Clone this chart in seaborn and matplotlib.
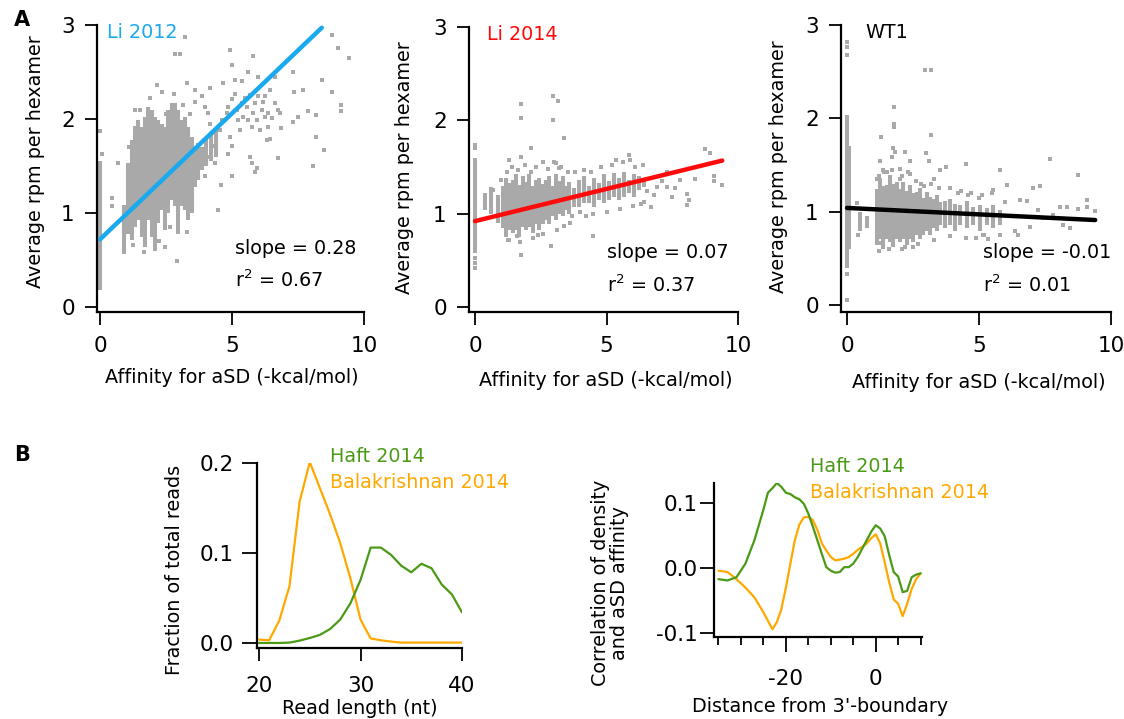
import numpy as np
import matplotlib.pyplot as plt
import seaborn as sns

# ---------------- data ----------------
# panel A: gray hexamer clouds. dense stacks drawn as columns (x, low, high),
# sparse hexamers as single points
li12_col_x = [0.0, 0.92, 1.07, 1.20, 1.33, 1.45, 1.58, 1.70, 1.83, 1.96, 2.08, 2.21, 2.34,
              2.46, 2.59, 2.71, 2.84, 2.97, 3.09, 3.22, 3.35, 3.47, 3.60, 3.72, 3.85, 4.00,
              4.20, 4.40]
li12_col_lo = [0.18, 0.61, 0.78, 0.71, 0.85, 0.93, 0.75, 0.64, 0.93, 0.75, 0.61, 0.89, 1.03,
               0.82, 1.00, 1.14, 1.07, 0.78, 1.07, 1.03, 0.93, 1.00, 1.28, 1.35, 1.46, 1.50,
               1.55, 1.60]
li12_col_hi = [1.55, 1.08, 1.53, 1.78, 1.88, 1.99, 1.92, 2.02, 2.13, 2.10, 2.02, 1.99, 1.95,
               1.92, 2.10, 2.17, 2.17, 2.10, 1.99, 2.02, 1.92, 1.81, 1.70, 1.75, 1.70, 1.80,
               1.85, 1.90]
li12_x = [0.00, 0.06, 3.22, 2.84, 3.03, 4.92, 5.80, 6.63, 7.32, 8.77, 9.03, 9.43, 8.42, 8.80,
          9.13, 9.13, 7.70, 7.36, 7.89, 8.17, 7.50, 7.32, 6.86, 6.73, 8.08, 8.20, 8.50, 6.44,
          5.87, 4.99, 4.60, 4.48, 2.90, 2.15, 2.34, 1.83, 1.33, 1.33, 0.70, 0.44, 0.47, 0.92,
          2.08, 2.46, 3.28, 3.60, 4.17, 4.67, 5.11, 5.37, 5.62, 5.97, 6.25, 6.44, 6.75, 6.38,
          5.00,
          3.60, 3.85, 3.98, 4.10, 4.17, 4.29, 4.36, 4.55, 4.61, 4.80, 4.86, 4.92, 4.99, 5.11,
          5.18, 5.24, 5.30, 5.37, 5.43, 5.49, 5.56, 5.62, 5.68, 5.74, 5.81, 5.87, 5.93, 6.00,
          6.06, 6.12, 6.19, 6.25, 6.31, 6.38, 6.50, 6.63, 6.82, 5.68, 5.74, 5.93, 4.86, 4.99,
          4.36, 4.10, 3.85, 3.79, 3.98, 3.60,
          1.10, 1.50, 1.90, 2.50, 2.80, 3.15, 3.40, 1.25, 1.65, 2.25, 2.65, 3.30]
li12_y = [1.87, 1.63, 2.87, 2.69, 2.69, 2.73, 2.67, 2.45, 2.50, 2.89, 2.76, 2.65, 2.41, 2.29,
          2.15, 2.09, 2.31, 2.29, 2.09, 2.04, 2.02, 1.97, 1.90, 1.58, 1.50, 1.81, 1.67, 1.79,
          1.44, 1.39, 1.30, 1.03, 0.49, 2.36, 2.29, 2.10, 2.10, 1.90, 1.53, 1.16, 1.07, 0.59,
          0.62, 0.64, 2.38, 2.31, 2.33, 2.38, 2.41, 2.40, 2.50, 2.45, 2.24, 2.31, 2.10, 2.06,
          2.57,
          2.18, 2.24, 2.13, 2.06, 1.95, 1.85, 1.71, 1.88, 1.99, 2.06, 2.13, 1.81, 2.21, 2.27,
          2.10, 1.99, 1.88, 2.17, 2.02, 2.22, 2.13, 1.99, 2.26, 1.92, 2.06, 2.17, 1.99, 2.24,
          1.88, 2.10, 2.18, 2.02, 1.78, 1.92, 2.01, 2.17, 2.06, 1.60, 1.53, 1.48, 1.63, 1.71,
          1.53, 1.60, 1.67, 1.49, 1.39, 1.35,
          1.70, 2.10, 2.22, 2.05, 2.27, 2.15, 2.05, 0.66, 0.58, 0.70, 0.85, 0.80]
li12_fit = (0.72, 0.268, 8.4)  # intercept, slope, last x

li14_col_x = [0.0, 0.37, 0.62, 0.87, 1.06, 1.19, 1.31, 1.44, 1.57, 1.69, 1.82, 1.94, 2.07,
              2.20, 2.32, 2.45, 2.58, 2.70, 2.83, 2.95, 3.08, 3.20, 3.33, 3.46, 3.59, 3.78,
              3.96, 4.15, 4.34, 4.53, 4.72, 4.91, 5.10, 5.29, 5.48, 5.67, 5.86, 6.05, 6.24,
              6.43]
li14_col_lo = [0.58, 1.04, 1.00, 0.90, 0.85, 0.75, 0.82, 0.79, 0.82, 0.75, 0.86, 0.82, 0.86,
               0.79, 0.89, 0.82, 0.89, 0.93, 0.89, 0.97, 0.93, 1.00, 0.97, 1.04, 1.00, 1.07,
               1.07, 1.11, 1.11, 1.07, 1.15, 1.11, 1.15, 1.18, 1.15, 1.18, 1.22, 1.18, 1.25,
               1.29]
li14_col_hi = [1.60, 1.22, 1.29, 1.20, 1.30, 1.38, 1.33, 1.36, 1.42, 1.31, 1.40, 1.34, 1.42,
               1.30, 1.36, 1.38, 1.32, 1.36, 1.40, 1.30, 1.42, 1.35, 1.40, 1.30, 1.34, 1.28,
               1.36, 1.40, 1.30, 1.38, 1.33, 1.42, 1.35, 1.44, 1.38, 1.45, 1.36, 1.42, 1.40,
               1.38]
li14_x = [0.00, 0.00, 0.00, 0.00, 0.00, 1.76, 1.76, 2.95, 3.14, 2.95, 3.37, 2.13, 1.31, 1.76,
          3.08, 3.20, 4.15, 5.35, 5.86, 5.90, 7.31, 7.80, 8.38, 8.76, 8.95, 9.08, 9.08, 9.39,
          8.07, 8.13, 8.07, 7.31, 7.50, 6.68, 4.47, 2.87, 1.76, 1.25, 1.60, 2.39, 3.40, 6.43,
          6.93, 6.55, 1.00, 0.68, 4.50, 5.00, 5.50, 6.00, 6.30, 4.00, 3.70, 6.80, 7.10, 7.60,
          1.20, 1.40, 1.62, 1.90, 2.12, 2.30, 2.60, 2.76, 3.00, 3.25, 3.52, 3.82, 4.40, 4.80,
          5.20, 5.62, 6.10, 6.40, 1.30, 1.70, 2.20, 2.60, 3.10, 3.62, 4.22]
li14_y = [1.74, 1.70, 0.52, 0.47, 0.42, 2.18, 2.02, 2.26, 2.21, 2.00, 1.81, 1.70, 1.58, 1.61,
          1.54, 1.49, 1.47, 1.58, 1.63, 1.58, 1.45, 1.36, 1.37, 1.69, 1.65, 1.40, 1.35, 1.31,
          1.21, 1.15, 1.09, 1.29, 1.18, 1.07, 0.76, 0.65, 0.56, 0.72, 0.76, 0.77, 0.87, 1.13,
          1.29, 1.24, 1.36, 1.25, 1.00, 1.02, 1.05, 1.08, 1.10, 1.02, 0.98, 1.20, 1.35, 1.28,
          1.45, 1.50, 1.47, 1.52, 1.45, 1.50, 1.55, 1.48, 1.55, 1.50, 1.45, 1.45, 1.45, 1.50,
          1.52, 1.55, 1.50, 1.52, 0.72, 0.70, 0.74, 0.78, 0.82, 0.90, 0.98]
li14_fit = (0.92, 0.069, 9.4)

wt1_col_x = [0.0, 0.06, 0.49, 0.74, 1.12, 1.25, 1.38, 1.50, 1.63, 1.76, 1.88, 2.00, 2.13,
             2.26, 2.39, 2.51, 2.64, 2.77, 2.89, 3.02, 3.14, 3.27, 3.40, 3.52, 3.71, 3.90,
             4.09, 4.28, 4.53, 4.79, 5.04, 5.29, 5.54, 5.80]
wt1_col_lo = [0.40, 0.60, 0.79, 0.82, 0.64, 0.71, 0.61, 0.71, 0.68, 0.62, 0.71, 0.68, 0.71,
              0.64, 0.71, 0.68, 0.75, 0.71, 0.75, 0.79, 0.75, 0.82, 0.79, 0.86, 0.82, 0.86,
              0.79, 0.86, 0.82, 0.86, 0.79, 0.86, 0.82, 0.86]
wt1_col_hi = [2.04, 1.70, 1.00, 0.95, 1.24, 1.36, 1.28, 1.29, 1.39, 1.30, 1.32, 1.24, 1.32,
              1.22, 1.29, 1.20, 1.21, 1.25, 1.15, 1.21, 1.16, 1.14, 1.18, 1.10, 1.11, 1.14,
              1.08, 1.07, 1.11, 1.05, 1.07, 1.04, 1.07, 1.02]
wt1_x = [0.00, 0.00, 0.00, 0.00, 0.00, 2.96, 3.17, 1.79, 1.79, 1.79, 3.17, 1.28, 1.76, 1.82,
         1.25, 1.69, 2.20, 2.39, 3.00, 3.12, 1.35, 2.01, 3.52, 3.75, 4.51, 5.80, 7.69, 8.76,
         7.31, 6.55, 6.80, 7.25, 7.82, 8.07, 8.32, 8.76, 9.08, 9.10, 9.39, 8.17, 8.45, 7.43,
         6.93, 6.36, 6.49, 5.35, 5.16, 0.37, 0.43, 1.25, 1.35, 2.20, 2.51, 7.06, 6.05, 5.54,
         1.20, 1.50, 2.00, 2.40, 2.80, 3.30, 4.20, 4.60, 5.00, 5.50, 6.00, 6.20, 5.80, 4.90,
         1.15, 1.40, 1.70, 2.10, 2.30, 2.60, 2.90, 3.20, 3.50, 3.90, 4.30, 4.70, 5.10, 1.20,
         1.60, 2.10, 2.70, 3.30, 3.90, 4.50, 5.20]
wt1_y = [2.82, 2.76, 2.68, 0.33, 0.05, 2.52, 2.52, 2.12, 1.94, 1.91, 1.82, 1.80, 1.68, 1.64,
         1.54, 1.59, 1.64, 1.54, 1.63, 1.54, 1.45, 1.46, 1.45, 1.48, 1.51, 1.45, 1.56, 1.39,
         1.27, 1.13, 1.11, 1.02, 0.96, 1.05, 1.05, 1.03, 1.12, 1.05, 1.01, 0.86, 0.82, 0.93,
         0.84, 0.79, 0.75, 0.71, 0.75, 1.09, 0.75, 0.66, 0.62, 0.62, 0.62, 1.25, 1.29, 1.23,
         1.38, 1.42, 1.35, 1.40, 1.30, 1.35, 1.20, 1.18, 1.15, 1.20, 1.10, 0.95, 0.75, 0.72,
         1.35, 1.42, 1.45, 1.38, 1.42, 1.33, 1.28, 1.30, 1.25, 1.25, 1.22, 1.20, 1.18, 0.58,
         0.60, 0.60, 0.65, 0.70, 0.74, 0.72, 0.75]
wt1_fit = (1.04, -0.0138, 9.4)

# panel B left: read length distribution
read_len = np.arange(20, 41)
haft_len = [0.0, 0.0, 0.0, 0.0004, 0.0026, 0.0055, 0.009, 0.0155, 0.026, 0.044, 0.070,
            0.106, 0.106, 0.098, 0.086, 0.0785, 0.088, 0.083, 0.065, 0.054, 0.034]
bala_len = [0.0037, 0.003, 0.025, 0.063, 0.157, 0.201, 0.172, 0.143, 0.111, 0.072, 0.026,
            0.005, 0.003, 0.0015, 0.0004, 0.0004, 0.0004, 0.0004, 0.0004, 0.0004, 0.0004]

# panel B right: correlation vs distance from 3'-boundary
dist = [-35, -33, -31, -29, -27, -25, -24, -23, -22, -21, -20, -19, -18, -17, -16, -15, -14,
        -13, -12, -11, -10, -9, -8, -7, -6, -5, -4, -3, -2, -1, 0, 1, 2, 3, 4, 5, 6, 7, 8,
        9, 10]
haft_corr = [-0.017, -0.019, -0.014, 0.007, 0.043, 0.090, 0.116, 0.123, 0.131, 0.125, 0.116,
             0.114, 0.109, 0.106, 0.099, 0.084, 0.064, 0.043, 0.022, 0.0015, -0.004, -0.007,
             -0.006, 0.0015, 0.0015, 0.007, 0.017, 0.030, 0.043, 0.056, 0.066, 0.061, 0.049,
             0.020, -0.006, -0.013, -0.037, -0.035, -0.014, -0.010, -0.008]
bala_corr = [-0.004, -0.006, -0.017, -0.030, -0.045, -0.068, -0.081, -0.094, -0.083, -0.063,
             -0.030, 0.007, 0.043, 0.067, 0.078, 0.079, 0.074, 0.059, 0.038, 0.027, 0.017,
             0.012, 0.013, 0.0145, 0.017, 0.022, 0.028, 0.033, 0.038, 0.046, 0.052, 0.038,
             0.009, -0.022, -0.048, -0.055, -0.074, -0.055, -0.032, -0.017, -0.008]

GRAY = "#a9a9a9"
BLUE = "#1aa9ef"
RED = "#ff0a0a"
GREEN = "#4b9a16"
ORANGE = "#ffa800"

W, H = 1124, 719

sns.set_theme(style="ticks")
plt.rcParams['font.family'] = ['DejaVu Sans']
plt.rcParams['mathtext.default'] = 'regular'
plt.rcParams['axes.unicode_minus'] = False
plt.rcParams['text.color'] = 'black'

fig = plt.figure(figsize=(W / 100, H / 100), dpi=100)


def px_axes(left, top, right, bottom):
    return fig.add_axes([left / W, 1 - bottom / H, (right - left) / W, (bottom - top) / H])


def ftext(x, y, s, **kw):
    kw.setdefault('fontsize', 13.8)
    fig.text(x / W, 1 - y / H, s, **kw)


def style(ax, xlen, ylen, xpad, ypad):
    sns.despine(ax=ax)
    for sp in ('left', 'bottom'):
        ax.spines[sp].set_linewidth(1.6)
        ax.spines[sp].set_color('black')
    ax.tick_params(axis='x', direction='out', length=xlen, width=1.3, pad=xpad,
                   labelsize=15.5, colors='black')
    ax.tick_params(axis='y', direction='out', length=ylen, width=1.3, pad=ypad,
                   labelsize=15.5, colors='black')
    ax.set_xlabel('')
    ax.set_ylabel('')


def scatter_panel(ax, cx, clo, chi, px, py, fit, color, xlo, ylo):
    ax.vlines(cx, clo, chi, color=GRAY, linewidth=2.9, zorder=1)
    sns.scatterplot(x=px, y=py, marker='s', s=8, color=GRAY, linewidth=0, ax=ax, zorder=2)
    b, m, xend = fit
    fx = np.array([0.0, xend])
    sns.lineplot(x=fx, y=b + m * fx, color=color, linewidth=3.2, ax=ax, zorder=3)
    ax.set_xlim(xlo, 10)
    ax.set_ylim(ylo, 3)
    ax.set_xticks([0, 5, 10])
    ax.set_yticks([0, 1, 2, 3])
    style(ax, 9.5, 9, 7.5, 7)


axA1 = px_axes(97, 25, 364, 312)
scatter_panel(axA1, li12_col_x, li12_col_lo, li12_col_hi, li12_x, li12_y, li12_fit, BLUE,
              -0.114, -0.053)
axA2 = px_axes(469, 27, 738, 312)
scatter_panel(axA2, li14_col_x, li14_col_lo, li14_col_hi, li14_x, li14_y, li14_fit, RED,
              -0.23, -0.054)
axA3 = px_axes(841, 25, 1111, 312)
scatter_panel(axA3, wt1_col_x, wt1_col_lo, wt1_col_hi, wt1_x, wt1_y, wt1_fit, 'black',
              -0.227, -0.075)

# panel A texts
ftext(107, 33, 'Li 2012', color=BLUE, va='center')
ftext(487, 35, 'Li 2014', color=RED, va='center')
ftext(865, 33, 'WT1', color='black', va='center')
ftext(235, 248, 'slope = 0.28', va='center')
ftext(235, 280, 'r$^{2}$ = 0.67', va='center')
ftext(607, 253, 'slope = 0.07', va='center')
ftext(607, 285, 'r$^{2}$ = 0.37', va='center')
ftext(983, 253, 'slope = -0.01', va='center')
ftext(983, 285, 'r$^{2}$ = 0.01', va='center')
for cx, cy in [(36, 162), (405, 168), (778, 167)]:
    ftext(cx, cy, 'Average rpm per hexamer', rotation=90, ha='center', va='center')
for cx, cy in [(232, 378), (606, 380), (979, 382)]:
    ftext(cx, cy, 'Affinity for aSD (-kcal/mol)', ha='center', va='center')
ftext(22, 20, 'A', fontsize=15, fontweight='bold', ha='center', va='center')
ftext(22, 455, 'B', fontsize=15, fontweight='bold', ha='center', va='center')

# panel B left
axB1 = px_axes(257, 463, 462, 648)
sns.lineplot(x=read_len, y=bala_len, color=ORANGE, linewidth=1.6, ax=axB1)
sns.lineplot(x=read_len, y=haft_len, color=GREEN, linewidth=1.6, ax=axB1)
axB1.set_xlim(19.8, 40)
axB1.set_ylim(-0.0056, 0.2)
axB1.set_xticks([20, 30, 40])
axB1.set_yticks([0.0, 0.1, 0.2])
axB1.set_yticklabels(['0.0', '0.1', '0.2'])
style(axB1, 9, 11, 11, 6)
ftext(330, 457, 'Haft 2014', color=GREEN, va='center')
ftext(330, 483, 'Balakrishnan 2014', color=ORANGE, va='center')
ftext(175, 570, 'Fraction of total reads', rotation=90, ha='center', va='center')
ftext(360, 708, 'Read length (nt)', ha='center', va='center')

# panel B right
axB2 = px_axes(714, 483, 922, 637)
sns.lineplot(x=dist, y=bala_corr, color=ORANGE, linewidth=1.6, ax=axB2)
sns.lineplot(x=dist, y=haft_corr, color=GREEN, linewidth=1.6, ax=axB2)
axB2.set_xlim(-36, 10.3)
axB2.set_ylim(-0.106, 0.131)
axB2.set_xticks([-20, 0])
axB2.set_xticks(np.arange(-35, 11, 5), minor=True)
axB2.set_yticks([-0.1, 0.0, 0.1])
axB2.set_yticklabels(['-0.1', '0.0', '0.1'])
style(axB2, 11, 10, 12, 2)
axB2.tick_params(axis='x', which='minor', direction='out', length=6, width=1.3,
                 colors='black')
ftext(810, 466, 'Haft 2014', color=GREEN, va='center')
ftext(810, 493, 'Balakrishnan 2014', color=ORANGE, va='center')
ftext(610, 583, 'Correlation of density\nand aSD affinity', rotation=90, ha='center',
      va='center', linespacing=1.0)
ftext(820, 707, "Distance from 3'-boundary", ha='center', va='center')

fig.savefig('out.png', dpi=100)
